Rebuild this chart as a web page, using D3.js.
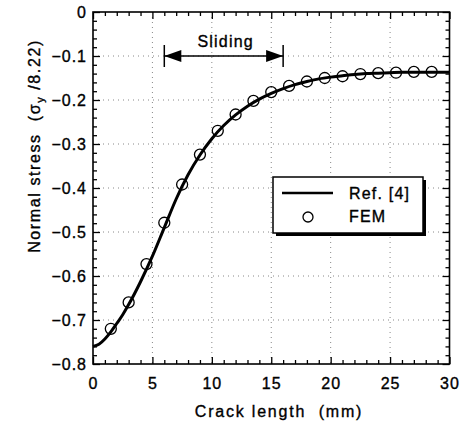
<!DOCTYPE html>
<html>
<head>
<meta charset="utf-8">
<script src="https://cdn.jsdelivr.net/npm/d3@7"></script>
<style>
  body { margin: 0; background: #fff; }
  svg text { font-family: "Liberation Sans", Arial, sans-serif; fill: #000; stroke: #000; stroke-width: 0.35px; }
</style>
</head>
<body>
<div id="container"></div>
<script>
// reference curve (Ref. [4])
const refX = [0, 0.5, 1, 1.5, 2, 2.5, 3, 4, 5, 6, 7, 8, 9, 10, 11, 12, 13, 14, 15, 16, 17, 18, 19, 20, 21, 22, 23, 24, 25, 26, 28, 30];
const refY = [-0.760, -0.755, -0.743, -0.727, -0.708, -0.688, -0.665, -0.613, -0.555, -0.490, -0.425, -0.370, -0.325, -0.288, -0.258, -0.234, -0.214, -0.198, -0.185, -0.174, -0.165, -0.158, -0.152, -0.148, -0.145, -0.142, -0.140, -0.139, -0.138, -0.137, -0.137, -0.137];
// FEM points
const femX = [1.5, 3, 4.5, 6, 7.5, 9, 10.5, 12, 13.5, 15, 16.5, 18, 19.5, 21, 22.5, 24, 25.5, 27, 28.5];
const femY = [-0.720, -0.660, -0.573, -0.479, -0.392, -0.324, -0.270, -0.233, -0.202, -0.182, -0.168, -0.158, -0.150, -0.146, -0.141, -0.139, -0.138, -0.136, -0.136];
// tick values
const xTicks = [0, 5, 10, 15, 20, 25, 30];
const yTicks = [0, -0.1, -0.2, -0.3, -0.4, -0.5, -0.6, -0.7, -0.8];
const slidingRange = [6, 16];
const slidingLevel = -0.1;

const width = 470, height = 426;
const margin = { top: 12, right: 20.5, bottom: 62, left: 93 };

const svg = d3.select("#container").append("svg")
  .attr("width", width)
  .attr("height", height);

const x = d3.scaleLinear().domain([0, 30]).range([margin.left, width - margin.right]);
const y = d3.scaleLinear().domain([-0.8, 0]).range([height - margin.bottom, margin.top]);

const fmt = d => d === 0 ? "0" : d3.format(".1f")(d);
const xMinor = d3.range(0, 31, 1).filter(d => d % 5 !== 0);
const yMinor = d3.range(-40, 1, 1).filter(d => d % 5 !== 0).map(d => d * 0.02);

// dotted grid
const grid = svg.append("g")
  .attr("stroke", "#888")
  .attr("stroke-width", 1)
  .attr("stroke-dasharray", "1,4");
grid.selectAll("line.gx")
  .data(xTicks.slice(1, -1))
  .join("line")
    .attr("x1", d => x(d)).attr("x2", d => x(d))
    .attr("y1", y(0)).attr("y2", y(-0.8));
grid.selectAll("line.gy")
  .data(yTicks.slice(1, -1))
  .join("line")
    .attr("x1", x(0)).attr("x2", x(30))
    .attr("y1", d => y(d)).attr("y2", d => y(d));

// axes, ticks pointing inward
function styleAxis(g) {
  g.select(".domain").remove();
  g.selectAll(".tick line").attr("stroke", "#000").attr("stroke-width", 1.3);
  g.selectAll("text")
    .attr("font-size", 16)
    .attr("letter-spacing", 1)
    .attr("font-family", "'Liberation Sans', Arial, sans-serif");
}

const yB = y(-0.8), yT = y(0), xL = x(0), xR = x(30);

svg.append("g").attr("transform", `translate(0,${yB})`)
  .call(d3.axisBottom(x).tickValues(xTicks).tickFormat(d3.format("d")).tickSize(-7).tickPadding(14))
  .call(styleAxis);
svg.append("g").attr("transform", `translate(0,${yB})`)
  .call(d3.axisBottom(x).tickValues(xMinor).tickFormat("").tickSize(-4))
  .call(styleAxis);
svg.append("g").attr("transform", `translate(0,${yT})`)
  .call(d3.axisTop(x).tickValues(xTicks).tickFormat("").tickSize(-7))
  .call(styleAxis);
svg.append("g").attr("transform", `translate(0,${yT})`)
  .call(d3.axisTop(x).tickValues(xMinor).tickFormat("").tickSize(-4))
  .call(styleAxis);

svg.append("g").attr("transform", `translate(${xL},0)`)
  .call(d3.axisLeft(y).tickValues(yTicks).tickFormat(fmt).tickSize(-7).tickPadding(6))
  .call(styleAxis);
svg.append("g").attr("transform", `translate(${xL},0)`)
  .call(d3.axisLeft(y).tickValues(yMinor).tickFormat("").tickSize(-4))
  .call(styleAxis);
svg.append("g").attr("transform", `translate(${xR},0)`)
  .call(d3.axisRight(y).tickValues(yTicks).tickFormat("").tickSize(-7))
  .call(styleAxis);
svg.append("g").attr("transform", `translate(${xR},0)`)
  .call(d3.axisRight(y).tickValues(yMinor).tickFormat("").tickSize(-4))
  .call(styleAxis);

// frame
svg.append("rect")
  .attr("x", xL).attr("y", yT)
  .attr("width", xR - xL).attr("height", yB - yT)
  .attr("fill", "none")
  .attr("stroke", "#000")
  .attr("stroke-width", 1.6);

// Ref. [4] curve
const refData = refX.map((d, i) => [d, refY[i]]);
svg.append("path")
  .datum(refData)
  .attr("fill", "none")
  .attr("stroke", "#000")
  .attr("stroke-width", 3)
  .attr("d", d3.line().x(d => x(d[0])).y(d => y(d[1])).curve(d3.curveMonotoneX));

// FEM circles
svg.append("g").selectAll("circle")
  .data(femX.map((d, i) => [d, femY[i]]))
  .join("circle")
    .attr("cx", d => x(d[0]))
    .attr("cy", d => y(d[1]))
    .attr("r", 5.5)
    .attr("fill", "none")
    .attr("stroke", "#000")
    .attr("stroke-width", 1.3);

// sliding arrow
const sy = y(slidingLevel);
const sx0 = x(slidingRange[0]), sx1 = x(slidingRange[1]);
const arrow = svg.append("g");
arrow.append("line")
  .attr("x1", sx0).attr("x2", sx1).attr("y1", sy).attr("y2", sy)
  .attr("stroke", "#000").attr("stroke-width", 1.5);
arrow.selectAll("line.bar")
  .data(slidingRange)
  .join("line")
    .attr("x1", d => x(d)).attr("x2", d => x(d))
    .attr("y1", sy - 11).attr("y2", sy + 11)
    .attr("stroke", "#000").attr("stroke-width", 1.5);
arrow.append("path")
  .attr("d", `M${sx0},${sy} L${sx0 + 17},${sy - 6} L${sx0 + 17},${sy + 6} Z`)
  .attr("fill", "#000");
arrow.append("path")
  .attr("d", `M${sx1},${sy} L${sx1 - 17},${sy - 6} L${sx1 - 17},${sy + 6} Z`)
  .attr("fill", "#000");
arrow.append("text")
  .attr("x", (sx0 + sx1) / 2 + 2)
  .attr("y", sy - 9)
  .attr("text-anchor", "middle")
  .attr("font-size", 16)
  .attr("letter-spacing", 1.2)
  .text("Sliding");

// legend
const lg = svg.append("g").attr("transform", "translate(273,177)");
lg.append("rect")
  .attr("x", 3).attr("y", 3).attr("width", 150).attr("height", 56)
  .attr("fill", "#000");
lg.append("rect")
  .attr("x", 0).attr("y", 0).attr("width", 150).attr("height", 56)
  .attr("fill", "#fff").attr("stroke", "#000").attr("stroke-width", 1.5);
lg.append("line")
  .attr("x1", 9).attr("x2", 60).attr("y1", 16).attr("y2", 16)
  .attr("stroke", "#000").attr("stroke-width", 2.5);
lg.append("circle")
  .attr("cx", 35).attr("cy", 40).attr("r", 5)
  .attr("fill", "none").attr("stroke", "#000").attr("stroke-width", 1.3);
lg.append("text")
  .attr("x", 76).attr("y", 22)
  .attr("font-size", 16).attr("letter-spacing", 1.2)
  .text("Ref. [4]");
lg.append("text")
  .attr("x", 76).attr("y", 45)
  .attr("font-size", 16).attr("letter-spacing", 1.2)
  .text("FEM");

// axis titles
svg.append("text")
  .attr("x", 279)
  .attr("y", 417)
  .attr("text-anchor", "middle")
  .attr("font-size", 16)
  .attr("letter-spacing", 1.8)
  .style("white-space", "pre")
  .text("Crack length  (mm)");

const yt = svg.append("text")
  .attr("transform", "translate(40,146) rotate(-90)")
  .attr("text-anchor", "middle")
  .attr("font-size", 16)
  .attr("letter-spacing", 1.6)
  .style("white-space", "pre");
yt.append("tspan").text("Normal stress  (σ");
yt.append("tspan").attr("font-size", 11).attr("dy", 4).text("y");
yt.append("tspan").attr("dy", -4).text(" /8.22)");
</script>
</body>
</html>
